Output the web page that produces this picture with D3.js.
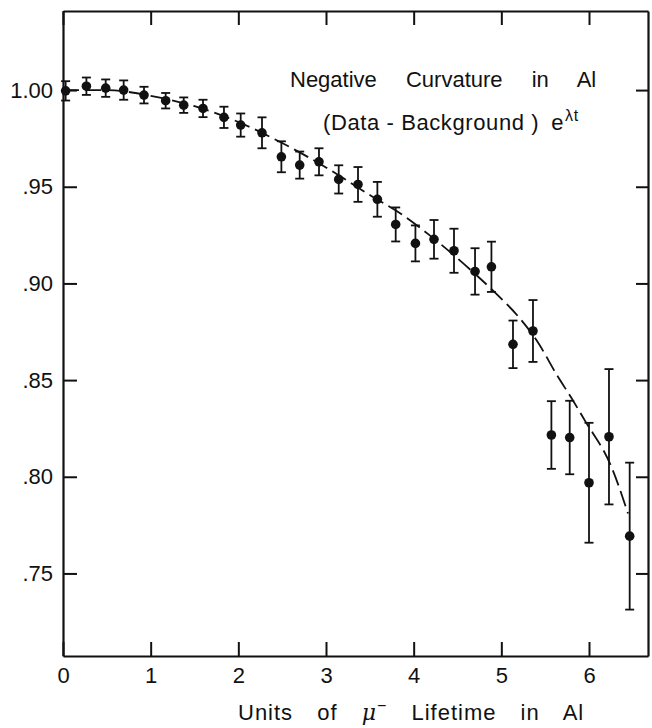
<!DOCTYPE html>
<html>
<head>
<meta charset="utf-8">
<script src="https://cdnjs.cloudflare.com/ajax/libs/d3/7.8.5/d3.min.js"></script>
<style>
body { margin: 0; background: #fff; }
svg { display: block; font-family: "Liberation Sans", Arial, sans-serif; }
</style>
</head>
<body>
<div id="chart"></div>
<script>
// measured points: time (units of mu- lifetime), ratio, error
var times = [0.03, 0.267, 0.487, 0.692, 0.924, 1.171, 1.377, 1.597, 1.836, 2.027,
             2.270, 2.491, 2.700, 2.920, 3.145, 3.365, 3.586, 3.795, 4.020, 4.232,
             4.460, 4.700, 4.887, 5.133, 5.361, 5.571, 5.780, 6.000, 6.228, 6.464];
var values = [0.9996, 1.002, 1.001, 1.000, 0.9974, 0.9945, 0.9922, 0.9905, 0.9859, 0.9819,
              0.9779, 0.9655, 0.9612, 0.9629, 0.9538, 0.9512, 0.9435, 0.9305, 0.9207, 0.9228,
              0.9169, 0.9062, 0.9086, 0.8685, 0.8754, 0.8216, 0.8203, 0.7969, 0.8207, 0.7693];
var errors = [0.005, 0.0045, 0.0045, 0.005, 0.0043, 0.004, 0.004, 0.0045, 0.0055, 0.006,
              0.008, 0.008, 0.007, 0.007, 0.0073, 0.009, 0.009, 0.0088, 0.0093, 0.010,
              0.0114, 0.012, 0.013, 0.0123, 0.016, 0.0175, 0.019, 0.031, 0.035, 0.038];

// dashed fit curve
var fitTimes = [0, 0.5, 1, 1.5, 2, 2.5, 3, 3.5, 3.875, 4.18, 4.715, 4.958, 5.21, 5.4,
                5.646, 5.8, 5.95, 6.255, 6.445];
var fitValues = [1.000, 1.000, 0.997, 0.9917, 0.9835, 0.9726, 0.960, 0.9457, 0.9354, 0.925,
                 0.9043, 0.894, 0.882, 0.8707, 0.8517, 0.8407, 0.8293, 0.8052, 0.781];

var xTicks = [0, 1, 2, 3, 4, 5, 6];
var yTicks = [0.75, 0.80, 0.85, 0.90, 0.95, 1.00];
var yTickLabels = [".75", ".80", ".85", ".90", ".95", "1.00"];

var w = 652,
    h = 728,
    margin = {top: 11, right: 4, bottom: 72, left: 63},
    pw = w - margin.left - margin.right,
    ph = h - margin.top - margin.bottom;

var x = d3.scaleLinear().domain([0, 6.673]).range([0, pw]);
var y = d3.scaleLinear().domain([0.7073, 1.0409]).range([ph, 0]);

var svg = d3.select("#chart").append("svg")
    .attr("width", w)
    .attr("height", h);

var g = svg.append("g")
    .attr("transform", "translate(" + margin.left + "," + margin.top + ")");

function styleAxis(sel) {
  sel.attr("font-size", 22)
     .attr("font-family", "'Liberation Sans', Arial, sans-serif");
  sel.select(".domain").attr("stroke", "#111").attr("stroke-width", 2.2);
  sel.selectAll(".tick line").attr("stroke", "#111").attr("stroke-width", 2);
  sel.selectAll(".tick text").attr("fill", "#111");
}

g.append("g")
    .attr("transform", "translate(0," + ph + ")")
    .call(d3.axisBottom(x).tickValues(xTicks).tickSize(-14).tickSizeOuter(0)
      .tickPadding(11).tickFormat(d3.format("d")))
    .call(styleAxis);

g.append("g")
    .call(d3.axisLeft(y).tickValues(yTicks).tickSize(-14).tickSizeOuter(0)
      .tickPadding(10).tickFormat(function(d, i) { return yTickLabels[i]; }))
    .call(styleAxis);

g.append("g")
    .call(d3.axisTop(x).tickValues(xTicks).tickSize(-14).tickSizeOuter(0)
      .tickFormat(""))
    .call(styleAxis);

g.append("g")
    .attr("transform", "translate(" + pw + ",0)")
    .call(d3.axisRight(y).tickValues(yTicks).tickSize(-12).tickSizeOuter(0)
      .tickFormat(""))
    .call(styleAxis);

// fit curve
var fit = fitTimes.map(function(t, i) { return [t, fitValues[i]]; });
g.append("path")
    .datum(fit)
    .attr("fill", "none")
    .attr("stroke", "#111")
    .attr("stroke-width", 1.8)
    .attr("stroke-dasharray", "16,6")
    .attr("d", d3.line()
      .x(function(d) { return x(d[0]); })
      .y(function(d) { return y(d[1]); })
      .curve(d3.curveMonotoneX));

// error bars and points
var pts = times.map(function(t, i) { return {t: t, v: values[i], e: errors[i]}; });

var pg = g.selectAll(".pt")
    .data(pts)
  .enter().append("g")
    .attr("class", "pt");

pg.append("line")
    .attr("x1", function(d) { return x(d.t); })
    .attr("x2", function(d) { return x(d.t); })
    .attr("y1", function(d) { return y(d.v - d.e); })
    .attr("y2", function(d) { return y(d.v + d.e); })
    .attr("stroke", "#111").attr("stroke-width", 1.8);

[-1, 1].forEach(function(s) {
  pg.append("line")
      .attr("x1", function(d) { return x(d.t) - 4.5; })
      .attr("x2", function(d) { return x(d.t) + 4.5; })
      .attr("y1", function(d) { return y(d.v + s * d.e); })
      .attr("y2", function(d) { return y(d.v + s * d.e); })
      .attr("stroke", "#111").attr("stroke-width", 1.8);
});

pg.append("circle")
    .attr("cx", function(d) { return x(d.t); })
    .attr("cy", function(d) { return y(d.v); })
    .attr("r", 4.8)
    .attr("fill", "#111");

// labels
svg.append("text")
    .attr("x", 290).attr("y", 87)
    .attr("font-size", 22)
    .attr("fill", "#111")
    .style("word-spacing", "23px")
    .text("Negative Curvature in Al");

var sub = svg.append("text")
    .attr("x", 323).attr("y", 130)
    .attr("font-size", 22)
    .attr("fill", "#111")
    .style("letter-spacing", "0.6px");
sub.append("tspan").text("(Data - Background )");
sub.append("tspan").attr("dx", 12).text("e");
sub.append("tspan").attr("font-size", 16).attr("dy", -9).attr("dx", 1).text("λt");

var xt = svg.append("text")
    .attr("x", 238).attr("y", 720)
    .attr("font-size", 22)
    .attr("fill", "#111")
    .style("letter-spacing", "1px")
    .style("word-spacing", "17px");
xt.append("tspan").text("Units of ");
xt.append("tspan").attr("font-family", "'DejaVu Serif', serif").attr("font-style", "italic").text("μ");
xt.append("tspan").attr("font-size", 16).attr("dy", -9).text("−");
xt.append("tspan").attr("dy", 9).text(" Lifetime in Al");
</script>
</body>
</html>
